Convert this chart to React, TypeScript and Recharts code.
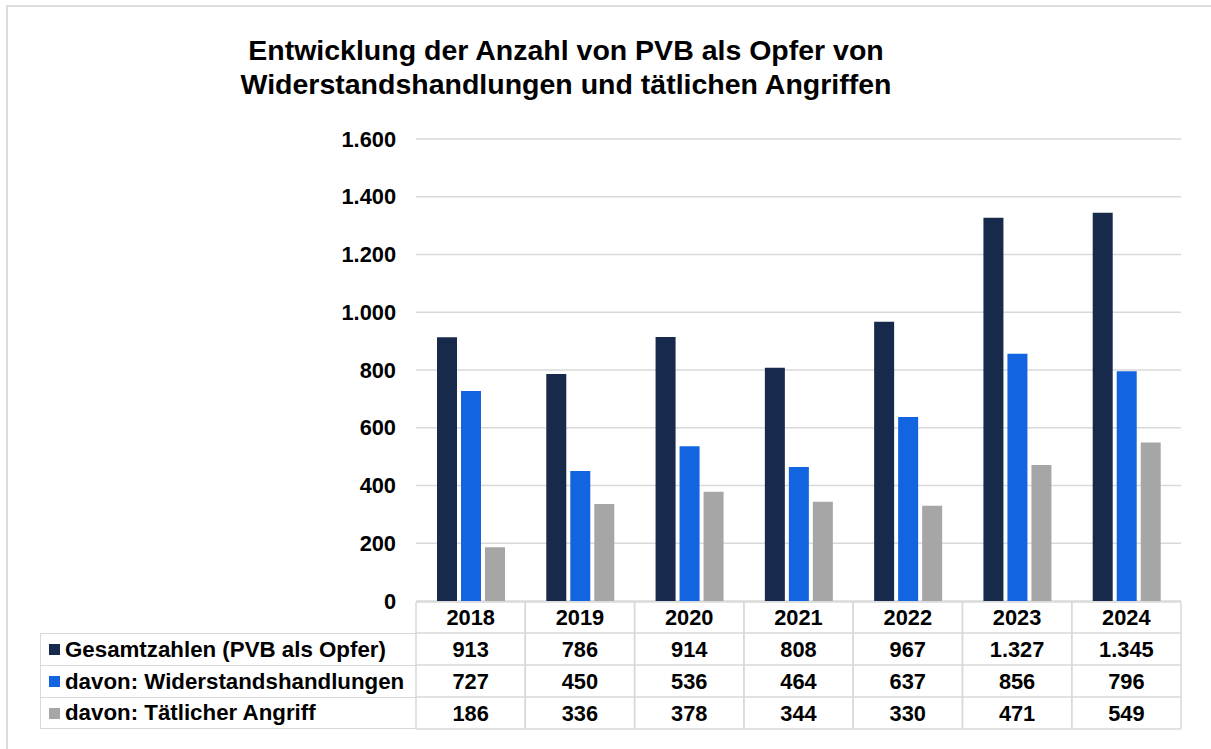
import React from 'react';
import { BarChart, Bar, XAxis, YAxis, CartesianGrid } from 'recharts';

const years = ['2018', '2019', '2020', '2021', '2022', '2023', '2024'];
const gesamt = [913, 786, 914, 808, 967, 1327, 1345];
const widerstand = [727, 450, 536, 464, 637, 856, 796];
const angriff = [186, 336, 378, 344, 330, 471, 549];
const yTicks = [0, 200, 400, 600, 800, 1000, 1200, 1400, 1600];

const seriesNames = [
  'Gesamtzahlen (PVB als Opfer)',
  'davon: Widerstandshandlungen',
  'davon: Tätlicher Angriff',
];
const seriesValues = [gesamt, widerstand, angriff];
const colors = ['#172a4b', '#1264e0', '#a6a6a6'];

const data = years.map((y, i) => ({
  year: y,
  gesamt: gesamt[i],
  widerstand: widerstand[i],
  angriff: angriff[i],
}));

const FONT = '"Liberation Sans", Arial, Helvetica, sans-serif';
const GRID = '#d9d9d9';

const fmt = (v: number) => {
  const s = String(Math.round(v));
  return s.replace(/\B(?=(\d{3})+(?!\d))/g, '.');
};

const W = 1211;
const H = 749;
const PLOT_LEFT = 416;
const PLOT_RIGHT = 1181;
const PLOT_TOP = 139;
const PLOT_BOTTOM = 601;
const BAND = (PLOT_RIGHT - PLOT_LEFT) / years.length;
const HEADER_H = 31;
const ROW_H = 32;

const TableTick = (props: any) => {
  const { x, y, payload } = props;
  const idx = years.indexOf(String(payload.value));
  const left = x - BAND / 2;
  const top = y + 1;
  const totalH = HEADER_H + ROW_H * 3;
  const rowsY = [top, top + HEADER_H, top + HEADER_H + ROW_H, top + HEADER_H + 2 * ROW_H, top + totalH];
  return (
    <g>
      {rowsY.map((ry, k) => (
        <line key={k} x1={left} x2={left + BAND} y1={ry} y2={ry} stroke={GRID} strokeWidth={1.5} />
      ))}
      <line x1={left} x2={left} y1={top} y2={top + totalH} stroke={GRID} strokeWidth={1.5} />
      <line x1={left + BAND} x2={left + BAND} y1={top} y2={top + totalH} stroke={GRID} strokeWidth={1.5} />
      <text x={x} y={top + HEADER_H / 2} dy="0.355em" textAnchor="middle" fontFamily={FONT} fontWeight="bold" fontSize={21.8} fill="#000">
        {payload.value}
      </text>
      {seriesValues.map((vals, k) => (
        <text key={k} x={x} y={top + HEADER_H + ROW_H * k + ROW_H / 2} dy="0.355em" textAnchor="middle" fontFamily={FONT} fontWeight="bold" fontSize={21.8} fill="#000">
          {fmt(vals[idx])}
        </text>
      ))}
    </g>
  );
};

export default function App() {
  const labelTop = PLOT_BOTTOM + 1 + HEADER_H;
  return (
    <div style={{ position: 'absolute', left: 0, top: 0, width: W, height: H, background: '#fff', overflow: 'hidden' }}>
      <div style={{ position: 'absolute', left: 6, top: 5, width: W + 20, height: H + 20, borderTop: '2px solid #dcdcdc', borderLeft: '2px solid #dcdcdc', boxSizing: 'border-box' }} />
      <div
        style={{
          position: 'absolute',
          left: 116,
          top: 33,
          width: 900,
          textAlign: 'center',
          fontFamily: FONT,
          fontWeight: 'bold',
          fontSize: 28.5,
          lineHeight: '34px',
          color: '#000',
        }}
      >
        Entwicklung der Anzahl von PVB als Opfer von
        <br />
        Widerstandshandlungen und tätlichen Angriffen
      </div>
      <div style={{ position: 'absolute', left: 0, top: 0 }}>
        <BarChart
          width={W}
          height={H}
          data={data}
          margin={{ top: PLOT_TOP, right: W - PLOT_RIGHT, bottom: H - PLOT_BOTTOM - 128, left: 0 }}
          barCategoryGap={21}
          barGap={4}
        >
          <CartesianGrid horizontal={true} vertical={false} stroke={GRID} strokeWidth={1.5} />
          <YAxis
            width={PLOT_LEFT}
            domain={[0, 1600]}
            ticks={yTicks}
            tickFormatter={fmt}
            axisLine={false}
            tickLine={false}
            tickSize={0}
            tickMargin={20}
            tick={{ fontFamily: FONT, fontWeight: 'bold', fontSize: 21.8, fill: '#000' }}
            interval={0}
          />
          <XAxis
            dataKey="year"
            height={128}
            axisLine={false}
            tickLine={false}
            tickSize={0}
            tickMargin={0}
            interval={0}
            tick={<TableTick />}
          />
          <Bar dataKey="gesamt" fill={colors[0]} isAnimationActive={false} />
          <Bar dataKey="widerstand" fill={colors[1]} isAnimationActive={false} />
          <Bar dataKey="angriff" fill={colors[2]} isAnimationActive={false} />
        </BarChart>
      </div>
      <div style={{ position: 'absolute', left: 40, top: labelTop, width: PLOT_LEFT - 40, fontFamily: FONT, fontWeight: 'bold', fontSize: 22.3, color: '#000' }}>
        {seriesNames.map((n, k) => (
          <div
            key={k}
            style={{
              height: ROW_H,
              boxSizing: 'border-box',
              borderTop: `1.5px solid ${GRID}`,
              borderLeft: `1.5px solid ${GRID}`,
              borderBottom: k === 2 ? `1.5px solid ${GRID}` : 'none',
              display: 'flex',
              alignItems: 'center',
              paddingLeft: 8,
              whiteSpace: 'nowrap',
            }}
          >
            <span style={{ display: 'inline-block', width: 11, height: 11, background: colors[k], marginRight: 5 }} />
            {n}
          </div>
        ))}
      </div>
    </div>
  );
}
